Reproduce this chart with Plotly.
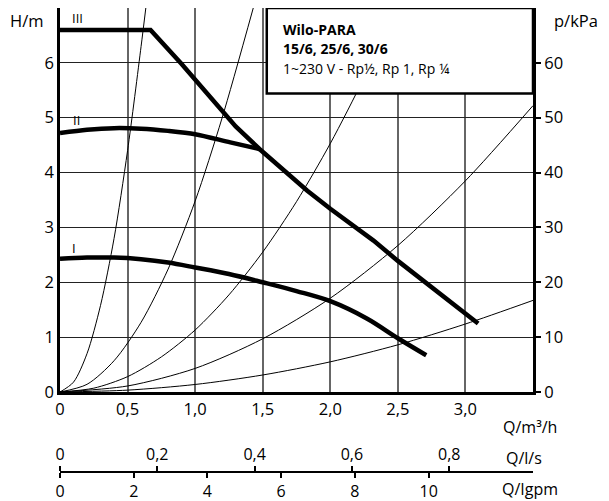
import plotly.graph_objects as go

# ---------------- data ----------------
# pump curves: Q in m3/h, H in m
q_I = [0, 0.2, 0.4, 0.6, 0.8, 1.0, 1.25, 1.5, 1.75, 2.0, 2.27, 2.5, 2.71]
h_I = [2.43, 2.45, 2.45, 2.42, 2.36, 2.27, 2.15, 2.0, 1.84, 1.655, 1.34, 0.98, 0.67]

q_II = [0, 0.2, 0.4, 0.6, 0.8, 1.0, 1.26, 1.476]
h_II = [4.72, 4.78, 4.81, 4.80, 4.76, 4.70, 4.55, 4.43]

q_III = [0, 0.67, 0.9, 1.1, 1.3, 1.476, 1.83, 2.0, 2.32, 2.5, 2.7, 3.094]
h_III = [6.6, 6.6, 5.98, 5.42, 4.84, 4.43, 3.67, 3.34, 2.76, 2.39, 2.0, 1.25]

# system (pipe) curves
sysA_q = [0, 0.1, 0.2, 0.3, 0.4, 0.5, 0.6, 0.635]
sysA_h = [0, 0.18, 0.7, 1.58, 2.8, 4.4, 6.3, 7.0]
sysB_q = [0, 0.2, 0.4, 0.6, 0.8, 1.0, 1.2, 1.43]
sysB_h = [0, 0.14, 0.57, 1.27, 2.24, 3.48, 5.0, 7.0]
sysC_q = [0, 0.25, 0.5, 0.75, 1.0, 1.25, 1.5, 1.75, 2.0, 2.25, 2.49]
sysC_h = [0, 0.07, 0.28, 0.64, 1.13, 1.77, 2.55, 3.47, 4.53, 5.73, 7.0]
sysD_q = [0, 0.5, 1.0, 1.5, 2.0, 2.5, 3.0, 3.5]
sysD_h = [0, 0.11, 0.43, 0.97, 1.71, 2.67, 3.85, 5.22]
sysE_q = [0, 0.5, 1.0, 1.5, 2.0, 2.5, 3.0, 3.5]
sysE_h = [0, 0.034, 0.137, 0.31, 0.55, 0.86, 1.24, 1.67]

# axes ticks
q_ticks = [0, 0.5, 1.0, 1.5, 2.0, 2.5, 3.0]
q_ticklabels = ["0", "0,5", "1,0", "1,5", "2,0", "2,5", "3,0"]
h_ticks = [0, 1, 2, 3, 4, 5, 6]
h_ticklabels = ["0", "1", "2", "3", "4", "5", "6"]
p_ticks = [0, 10, 20, 30, 40, 50, 60]
p_ticklabels = ["0", "10", "20", "30", "40", "50", "60"]
ls_ticks = [0, 0.2, 0.4, 0.6, 0.8]
ls_ticklabels = ["0", "0,2", "0,4", "0,6", "0,8"]
igpm_ticks = [0, 2, 4, 6, 8, 10]
igpm_ticklabels = ["0", "2", "4", "6", "8", "10"]

curve_names = ["I", "II", "III"]
box_lines = ["<b>Wilo-PARA</b>", "<b>15/6, 25/6, 30/6</b>", "1~230 V - Rp½, Rp 1, Rp ¼"]

Q_MAX = 3.5          # m3/h
H_MAX = 7.0          # m
M3H_PER_LS = 3.6
M3H_PER_IGPM = 0.272765

FONT = "Open Sans"

# ---------------- figure ----------------
fig = go.Figure()

for qs, hs in [(sysA_q, sysA_h), (sysB_q, sysB_h), (sysC_q, sysC_h),
               (sysD_q, sysD_h), (sysE_q, sysE_h)]:
    fig.add_trace(go.Scatter(x=qs, y=hs, mode="lines",
                             line=dict(color="black", width=1, shape="spline", smoothing=0.8),
                             showlegend=False, hoverinfo="skip"))

fig.add_trace(go.Scatter(x=q_I, y=h_I, mode="lines",
                         line=dict(color="black", width=4.5, shape="spline", smoothing=1.0),
                         showlegend=False))
fig.add_trace(go.Scatter(x=q_II, y=h_II, mode="lines",
                         line=dict(color="black", width=4.5, shape="spline", smoothing=0.8),
                         showlegend=False))
fig.add_trace(go.Scatter(x=q_III, y=h_III, mode="lines",
                         line=dict(color="black", width=4.5),
                         showlegend=False))

# dummy traces to activate secondary axes
fig.add_trace(go.Scatter(x=[0], y=[0], yaxis="y2", mode="markers",
                         marker=dict(opacity=0), showlegend=False, hoverinfo="skip"))
fig.add_trace(go.Scatter(x=[0], y=[0], xaxis="x2", mode="markers",
                         marker=dict(opacity=0), showlegend=False, hoverinfo="skip"))
fig.add_trace(go.Scatter(x=[0], y=[0], xaxis="x3", mode="markers",
                         marker=dict(opacity=0), showlegend=False, hoverinfo="skip"))

# page has an 8px body margin -> figure is offset by 8px
OFF = 8
W, H = 609 - OFF, 501 - OFF
ML, MR, MT, MB = 52, 76, 0, 21
PW, PH = W - ML - MR, H - MT - MB


def px(xp):
    """page x pixel -> paper coordinate"""
    return (xp - OFF - ML) / PW


def py(yp):
    """page y pixel -> paper coordinate"""
    return (H - MB - (yp - OFF)) / PH


y_dom0 = py(392)
sec_pos = py(472)

tickfont = dict(family=FONT, size=16.5, color="black")
secfont = dict(family=FONT, size=16, color="black")

fig.update_layout(
    width=W, height=H,
    margin=dict(l=ML, r=MR, t=MT, b=MB, autoexpand=False),
    paper_bgcolor="white", plot_bgcolor="white",
    font=dict(family=FONT, color="black"),
    showlegend=False,
    xaxis=dict(range=[0, Q_MAX], domain=[0, 1], anchor="y",
               tickmode="array", tickvals=q_ticks, ticktext=q_ticklabels,
               showgrid=True, gridcolor="#666666", gridwidth=1.5,
               showline=True, linecolor="black", linewidth=2.5, mirror=True,
               ticks="", zeroline=False, tickfont=tickfont,
               ticklabelstandoff=0, automargin=False),
    yaxis=dict(range=[0, H_MAX], domain=[y_dom0, 1], anchor="x",
               tickmode="array", tickvals=h_ticks, ticktext=h_ticklabels,
               showgrid=True, gridcolor="#222222", gridwidth=1.2,
               showline=True, linecolor="black", linewidth=2.5,
               ticks="", zeroline=False, tickfont=tickfont,
               ticklabelstandoff=0, automargin=False),
    yaxis2=dict(range=[0, H_MAX * 10], overlaying="y", side="right", anchor="x",
                tickmode="array", tickvals=p_ticks, ticktext=p_ticklabels,
                showgrid=False, showline=True, linecolor="black", linewidth=3,
                ticks="outside", ticklen=5, tickwidth=2, tickcolor="black",
                zeroline=False, tickfont=tickfont, automargin=False),
    xaxis2=dict(range=[0, Q_MAX / M3H_PER_LS], overlaying="x", anchor="free",
                position=sec_pos, side="top",
                tickmode="array", tickvals=ls_ticks, ticktext=ls_ticklabels,
                showgrid=False, showline=True, linecolor="black", linewidth=2,
                ticks="outside", ticklen=5, tickwidth=1.5, tickcolor="black",
                zeroline=False, tickfont=secfont, automargin=False),
    xaxis3=dict(range=[0, Q_MAX / M3H_PER_IGPM], overlaying="x", anchor="free",
                position=sec_pos, side="bottom",
                tickmode="array", tickvals=igpm_ticks, ticktext=igpm_ticklabels,
                showgrid=False, showline=True, linecolor="black", linewidth=2,
                ticks="outside", ticklen=5, tickwidth=1.5, tickcolor="black",
                zeroline=False, tickfont=secfont, automargin=False),
)

# info box
fig.add_shape(type="rect", xref="x", yref="y", x0=1.53, x1=Q_MAX, y0=5.44, y1=H_MAX,
              fillcolor="white", line=dict(color="black", width=2.5), layer="above")

annotations = []
for txt, yp in zip(box_lines, [30, 49, 69]):
    annotations.append(dict(text=txt, xref="paper", yref="paper", x=px(281), y=py(yp),
                            xanchor="left", yanchor="middle", showarrow=False,
                            font=dict(family=FONT, size=14, color="black")))

# axis titles
annotations += [
    dict(text="H/m", xref="paper", yref="paper", x=px(27), y=py(20),
         xanchor="center", yanchor="middle", showarrow=False,
         font=dict(family=FONT, size=16.5)),
    dict(text="p/kPa", xref="paper", yref="paper", x=px(576), y=py(20),
         xanchor="center", yanchor="middle", showarrow=False,
         font=dict(family=FONT, size=16.5)),
    dict(text="Q/m³/h", xref="paper", yref="paper", x=px(530), y=py(427),
         xanchor="center", yanchor="middle", showarrow=False,
         font=dict(family=FONT, size=16)),
    dict(text="Q/l/s", xref="paper", yref="paper", x=px(524), y=py(458),
         xanchor="center", yanchor="middle", showarrow=False,
         font=dict(family=FONT, size=16)),
    dict(text="Q/Igpm", xref="paper", yref="paper", x=px(530), y=py(489),
         xanchor="center", yanchor="middle", showarrow=False,
         font=dict(family=FONT, size=16)),
]

# curve labels
for name, (qx, hy) in zip(curve_names, [(0.10, 2.62), (0.12, 4.95), (0.13, 6.82)]):
    annotations.append(dict(text=name, xref="x", yref="y", x=qx, y=hy,
                            xanchor="center", yanchor="middle", showarrow=False,
                            font=dict(family=FONT, size=13, color="black")))

fig.update_layout(annotations=annotations)

fig.write_html("out.html")
